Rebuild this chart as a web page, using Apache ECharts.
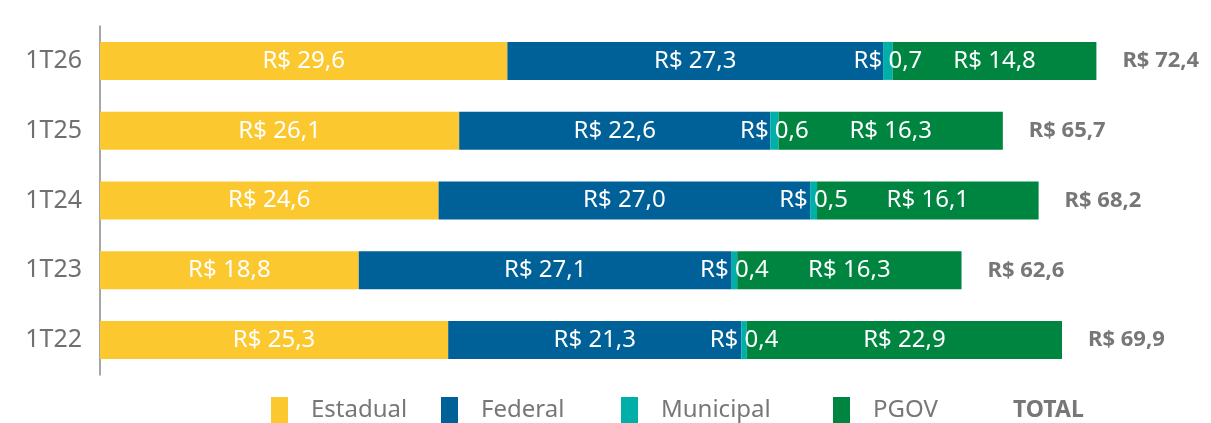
<!DOCTYPE html>
<html>
<head>
<meta charset="utf-8">
<script src="https://cdn.jsdelivr.net/npm/echarts@6/dist/echarts.min.js"></script>
<style>
html, body { margin: 0; padding: 0; background: #fff; }
#chart { width: 1211px; height: 423px; }
</style>
</head>
<body>
<div id="chart"></div>
<script>
// categorias (de baixo para cima)
const categories = ['1T22', '1T23', '1T24', '1T25', '1T26'];
const estadual = [25.3, 18.8, 24.6, 26.1, 29.6];
const federal = [21.3, 27.1, 27.0, 22.6, 27.3];
const municipal = [0.4, 0.4, 0.5, 0.6, 0.7];
const pgov = [22.9, 16.3, 16.1, 16.3, 14.8];
const totals = [69.9, 62.6, 68.2, 65.7, 72.4];

const FONT = 'Noto Sans';
const fmt = v => 'R$ ' + v.toFixed(1).replace('.', ',');

const chart = echarts.init(document.getElementById('chart'));

function barSeries(name, data, color) {
    return {
        name: name,
        type: 'bar',
        stack: 'total',
        barWidth: 38,
        data: data,
        itemStyle: { color: color },
        label: {
            show: true,
            position: 'inside',
            color: '#fff',
            fontFamily: FONT,
            fontSize: 24,
            formatter: p => fmt(p.value)
        }
    };
}

function legendItem(name, left) {
    return {
        left: left,
        top: 397,
        padding: 0,
        itemWidth: 17,
        itemHeight: 26,
        itemGap: 0,
        data: [{ name: name, icon: 'rect' }],
        textStyle: {
            color: '#777',
            fontFamily: FONT,
            fontSize: 24,
            padding: [0, 0, 0, 18]
        }
    };
}

const option = {
    animation: false,
    grid: { left: 100, top: 26, width: 1101, height: 349 },
    xAxis: {
        type: 'value',
        min: 0,
        max: 80,
        show: false
    },
    yAxis: {
        type: 'category',
        data: categories,
        axisLine: { lineStyle: { color: '#8a8a8a', width: 1.5 } },
        axisTick: { show: false },
        axisLabel: { color: '#707070', fontFamily: FONT, fontSize: 25, margin: 18 }
    },
    legend: [
        legendItem('Estadual', 271),
        legendItem('Federal', 441),
        legendItem('Municipal', 621),
        legendItem('PGOV', 833),
        {
            left: 1008,
            top: 397,
            padding: 0,
            itemWidth: 0,
            itemHeight: 26,
            data: [{ name: 'TOTAL', icon: 'none' }],
            textStyle: { color: '#777', fontFamily: FONT, fontSize: 23, fontWeight: 'bold' }
        }
    ],
    series: [
        barSeries('Estadual', estadual, '#fcc82f'),
        barSeries('Federal', federal, '#006199'),
        barSeries('Municipal', municipal, '#00b0a8'),
        barSeries('PGOV', pgov, '#008540'),
        {
            name: 'TOTAL',
            type: 'bar',
            stack: 'total',
            barWidth: 38,
            data: totals.map(() => 0),
            itemStyle: { color: 'transparent' },
            label: {
                show: true,
                position: 'right',
                distance: 26,
                color: '#777',
                fontFamily: FONT,
                fontSize: 22,
                fontWeight: 'bold',
                formatter: p => fmt(totals[p.dataIndex])
            }
        }
    ]
};

chart.setOption(option);
</script>
</body>
</html>
